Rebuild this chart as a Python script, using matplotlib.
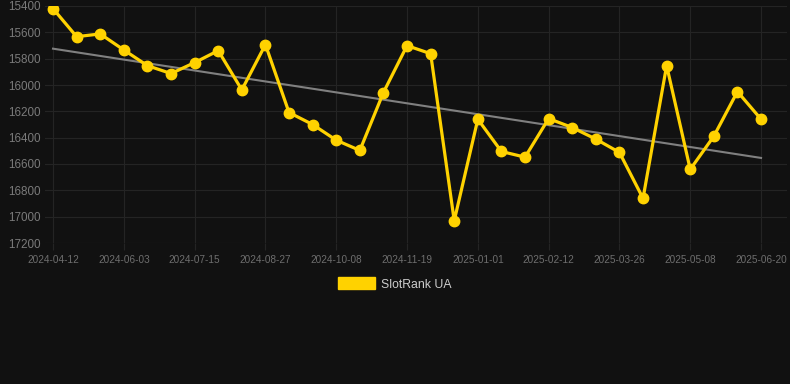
import numpy as np
import matplotlib
matplotlib.use("Agg")
import matplotlib.pyplot as plt

# rank values, one point per sample (x is categorical)
ranks = [15420, 15633, 15612, 15734, 15853, 15913, 15830, 15739, 16037, 15693,
         16209, 16300, 16419, 16497, 16057, 15701, 15762, 17031, 16260, 16505,
         16548, 16255, 16323, 16411, 16512, 16861, 15853, 16641, 16389, 16050,
         16260]
tick_labels = ["2024-04-12", "2024-06-03", "2024-07-15", "2024-08-27",
               "2024-10-08", "2024-11-19", "2025-01-01", "2025-02-12",
               "2025-03-26", "2025-05-08", "2025-06-20"]
y_ticks = [15400, 15600, 15800, 16000, 16200, 16400, 16600, 16800, 17000, 17200]
series_name = "SlotRank UA"

bg = "#111111"
yellow = "#FFD200"

plt.rcParams["font.family"] = ["Liberation Sans", "DejaVu Sans"]

fig = plt.figure(figsize=(7.9, 3.84), dpi=100, facecolor=bg)
ax = fig.add_axes([45 / 790, 1 - 243 / 384, 742 / 790, 237 / 384], facecolor=bg)

x = np.arange(len(ranks))

# trend line (least squares)
k, b = np.polyfit(x, ranks, 1)
ax.plot(x, k * x + b, color="#808080", lw=1.5, zorder=2)

ax.plot(x, ranks, color=yellow, lw=2.3, marker="o", markersize=7.5,
        markerfacecolor=yellow, markeredgecolor=yellow, zorder=3,
        label=series_name)

ax.set_ylim(17200, 15400)
ax.set_yticks(y_ticks)
ax.set_xlim(-0.34, 31.1)
ax.set_xticks(x[::3])
ax.set_xticklabels(tick_labels)

ax.grid(True, color="#242424", lw=0.8)
ax.set_axisbelow(True)
for s in ax.spines.values():
    s.set_visible(False)

ax.tick_params(axis="y", length=0, pad=3, labelsize=8.4, labelcolor="#7a7a7a")
ax.tick_params(axis="x", length=5, color="#242424", pad=3.5, labelsize=7.2,
               labelcolor="#6e6e6e")

handle = plt.Rectangle((0, 0), 1, 1, facecolor=yellow, edgecolor=yellow)
leg = fig.legend([handle], [series_name], loc="center",
                 bbox_to_anchor=(0.5, 1 - 284 / 384), frameon=False,
                 fontsize=8.8, handlelength=3.0, handleheight=1.1,
                 handletextpad=0.5)
for t in leg.get_texts():
    t.set_color("#cccccc")

fig.savefig("out.png", dpi=100, facecolor=bg)
